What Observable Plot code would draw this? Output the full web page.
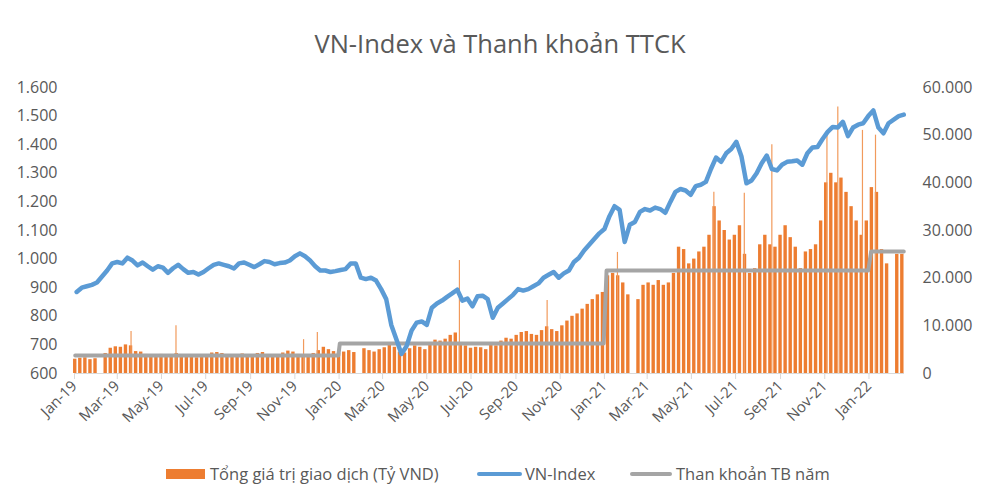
<!DOCTYPE html>
<html>
<head>
<meta charset="utf-8">
<script src="https://cdn.jsdelivr.net/npm/d3@7"></script>
<script src="https://cdn.jsdelivr.net/npm/@observablehq/plot@0.6"></script>
<style>
  body { margin: 0; background: #fff; }
  #wrap { position: relative; width: 1000px; height: 499px; overflow: hidden; font-family: "Open Sans", sans-serif; color: #595959; }
  #title { position: absolute; left: 0; width: 1000px; top: 26px; text-align: center; font-size: 25.5px; line-height: 34px; }
  #chart { position: absolute; left: 0; top: 70px; }
  .lg { position: absolute; font-size: 16.5px; line-height: 24px; top: 462px; white-space: nowrap; }
  .sw { position: absolute; }
</style>
</head>
<body>
<div id="wrap">
  <div id="title">VN-Index và Thanh khoản TTCK</div>
  <div id="chart"></div>
  <div class="sw" style="left:166px;top:469px;width:39px;height:10px;background:#ED7D31"></div>
  <div class="lg" style="left:210px">Tổng giá trị giao dịch (Tỷ VND)</div>
  <div class="sw" style="left:477px;top:472px;width:45px;height:4px;border-radius:2px;background:#5B9BD5"></div>
  <div class="lg" style="left:525px">VN-Index</div>
  <div class="sw" style="left:630px;top:472px;width:42px;height:4px;border-radius:2px;background:#A5A5A5"></div>
  <div class="lg" style="left:676px">Than khoản TB năm</div>
</div>
<script>
// ---- Data (weekly, week k starts Monday 2018-12-31 + 7k) ----
const firstMonday = "2018-12-31";

// Weekly trading value (billion VND); null = Tet holiday week
const liq2019 = [3000, 3200, 3300, 2900, 3100, null, 4200, 5300, 5600, 5500, 6000, 5800, 4600, 4500, 4000, 3800, 3500, 4000, 3700, 3600, 4200, 3600, 3400, 3500, 3300, 3600, 3700, 4300, 4400, 4200, 3900, 3700, 3800, 4100, 3700, 3900, 4200, 4400, 3900, 3700, 3800, 4300, 4700, 4500, 4000, 3800, 3600, 4200, 4800, 5500, 5000, 4600];
const liq2020 = [4200, 4500, 4800, 4400, null, 5200, 4800, 4500, 5000, 5400, 6500, 5500, 4500, 4300, 5200, 5800, 5500, 5000, 6500, 7000, 6800, 7200, 8000, 8500, 6500, 5800, 5300, 5500, 5400, 5000, 6200, 5800, 6800, 7400, 7200, 8000, 8600, 8800, 8200, 8000, 9000, 9800, 9200, 8800, 10000, 11000, 12000, 12500, 13500, 14500, 15500, 16500, 17000];
const liq2021 = [20500, 21000, 20500, 19000, 16500, null, 15500, 18500, 19000, 18500, 19500, 18500, 19000, 21000, 26500, 26000, 23000, 24000, 25500, 26500, 29000, 35000, 32000, 30000, 28000, 29000, 31000, 25000, 21000, 22000, 27000, 29000, 27000, 26500, 29000, 31000, 28500, 26500, 22000, 25500, 26000, 27000, 32000, 40000, 42000, 40000, 41000, 38000, 35000, 32000, 29000, 32000];
const liq2022 = [39000, 38000, 26000, 23000, null, 25000, 25000];

// Weekly VN-Index close (Friday); null = Tet holiday week
const idx2019 = [885, 900, 905, 910, 918, null, 960, 985, 990, 985, 1005, 995, 978, 988, 975, 963, 975, 970, 952, 968, 980, 965, 952, 955, 946, 955, 968, 980, 985, 980, 975, 967, 985, 988, 980, 972, 982, 993, 990, 982, 986, 988, 995, 1010, 1020, 1010, 995, 975, 960, 960, 955, 958];
const idx2020 = [962, 965, 985, 985, 935, 930, 935, 925, 895, 860, 770, 720, 668, 695, 750, 778, 782, 770, 830, 845, 855, 868, 880, 893, 855, 862, 835, 870, 872, 860, 795, 830, 845, 860, 875, 895, 890, 895, 905, 915, 935, 945, 955, 935, 950, 960, 990, 1005, 1030, 1050, 1070, 1090, 1105];
const idx2021 = [1150, 1185, 1172, 1060, 1120, 1130, 1165, 1175, 1170, 1180, 1175, 1162, 1200, 1235, 1245, 1240, 1225, 1255, 1260, 1270, 1315, 1355, 1340, 1370, 1385, 1410, 1360, 1265, 1275, 1300, 1335, 1362, 1315, 1310, 1330, 1340, 1342, 1345, 1330, 1370, 1390, 1392, 1420, 1445, 1462, 1460, 1480, 1430, 1460, 1470, 1475, 1500];
const idx2022 = [1520, 1460, 1440, 1475, null, 1500, 1505];

// Single-day outliers of trading value
const spikeDates = ["2019-03-20", "2019-05-21", "2019-11-13", "2019-12-02", "2020-06-15", "2020-10-14", "2021-01-19", "2021-06-01", "2021-07-13", "2021-08-20", "2021-11-04", "2021-11-19", "2021-12-23", "2022-01-10"];
const spikeValues = [8800, 10000, 7100, 8600, 23700, 15300, 25400, 38000, 37800, 48000, 50000, 55900, 51000, 50000];

// Yearly average liquidity
const yearStarts = ["2019-01-02", "2020-01-02", "2021-01-04", "2022-01-04"];
const yearEnds = ["2019-12-31", "2020-12-31", "2021-12-31", "2022-02-18"];
const yearAvg = [3800, 6300, 21600, 25600];

// Axis ticks
const leftTicks = [600, 700, 800, 900, 1000, 1100, 1200, 1300, 1400, 1500, 1600];
const rightTicks = [0, 10000, 20000, 30000, 40000, 50000, 60000];

// ---- Build tables ----
const parse = d3.utcParse("%Y-%m-%d");
const m0 = parse(firstMonday);
const liquidity = [...liq2019, ...liq2020, ...liq2021, ...liq2022];
const vnIndex = [...idx2019, ...idx2020, ...idx2021, ...idx2022];
const weeks = liquidity.map((v, k) => ({
  x1: d3.utcHour.offset(d3.utcDay.offset(m0, 7 * k), -8),
  x2: d3.utcHour.offset(d3.utcDay.offset(m0, 7 * k + 4), 8),
  fri: d3.utcDay.offset(m0, 7 * k + 4),
  liq: v,
  idx: vnIndex[k]
}));
const bars = weeks.filter(d => d.liq != null);
// VN-Index mapped onto the secondary (liquidity) scale: 600..1600 -> 0..60000
const toLiq = v => (v - 600) * 60;
const line = weeks.filter(d => d.idx != null).map(d => ({date: d.fri, v: toLiq(d.idx)}));
const spikes = spikeDates.map((d, i) => ({date: parse(d), v: spikeValues[i]}));
const avgLine = yearAvg.flatMap((a, i) => [
  {date: parse(yearStarts[i]), v: a},
  {date: parse(yearEnds[i]), v: a}
]);

const fmt = d3.formatLocale({decimal: ",", thousands: ".", grouping: [3], currency: ["", ""]}).format(",");
const monthTicks = d3.utcMonth.range(parse("2019-01-01"), parse("2022-01-02"), 2);

const chart = Plot.plot({
  width: 1000,
  height: 380,
  marginLeft: 74,
  marginRight: 96,
  marginTop: 17,
  marginBottom: 77,
  style: {fontFamily: "Open Sans, sans-serif", fontSize: "16px", color: "#595959", background: "#fff", overflow: "visible"},
  x: {type: "utc", domain: [parse("2019-01-01"), parse("2022-02-19")]},
  y: {domain: [0, 60000]},
  marks: [
    Plot.rect(bars, {x1: "x1", x2: "x2", y1: 0, y2: "liq", fill: "#ED7D31"}),
    Plot.ruleX(spikes, {x: "date", y1: 0, y2: "v", stroke: "#F19A5C", strokeWidth: 1.2}),
    Plot.ruleY([0], {stroke: "#D9D9D9", strokeWidth: 1}),
    Plot.line(avgLine, {x: "date", y: "v", stroke: "#A5A5A5", strokeWidth: 4, strokeLinejoin: "round"}),
    Plot.line(line, {x: "date", y: "v", stroke: "#5B9BD5", strokeWidth: 4.5, strokeLinejoin: "round", strokeLinecap: "round"}),
    Plot.axisY({anchor: "left", ticks: leftTicks.map(toLiq), tickFormat: d => fmt(d / 60 + 600), tickSize: 0, tickPadding: 17, fontSize: 16, label: null}),
    Plot.axisY({anchor: "right", ticks: rightTicks, tickFormat: fmt, tickSize: 0, tickPadding: 18, fontSize: 16, label: null}),
    Plot.axisX({ticks: monthTicks, tickFormat: d3.utcFormat("%b-%y"), tickRotate: -45, tickSize: 6, tickPadding: 4, stroke: "#D9D9D9", fill: "#595959", fontSize: 15, label: null})
  ]
});
document.getElementById("chart").appendChild(chart);
</script>
</body>
</html>
